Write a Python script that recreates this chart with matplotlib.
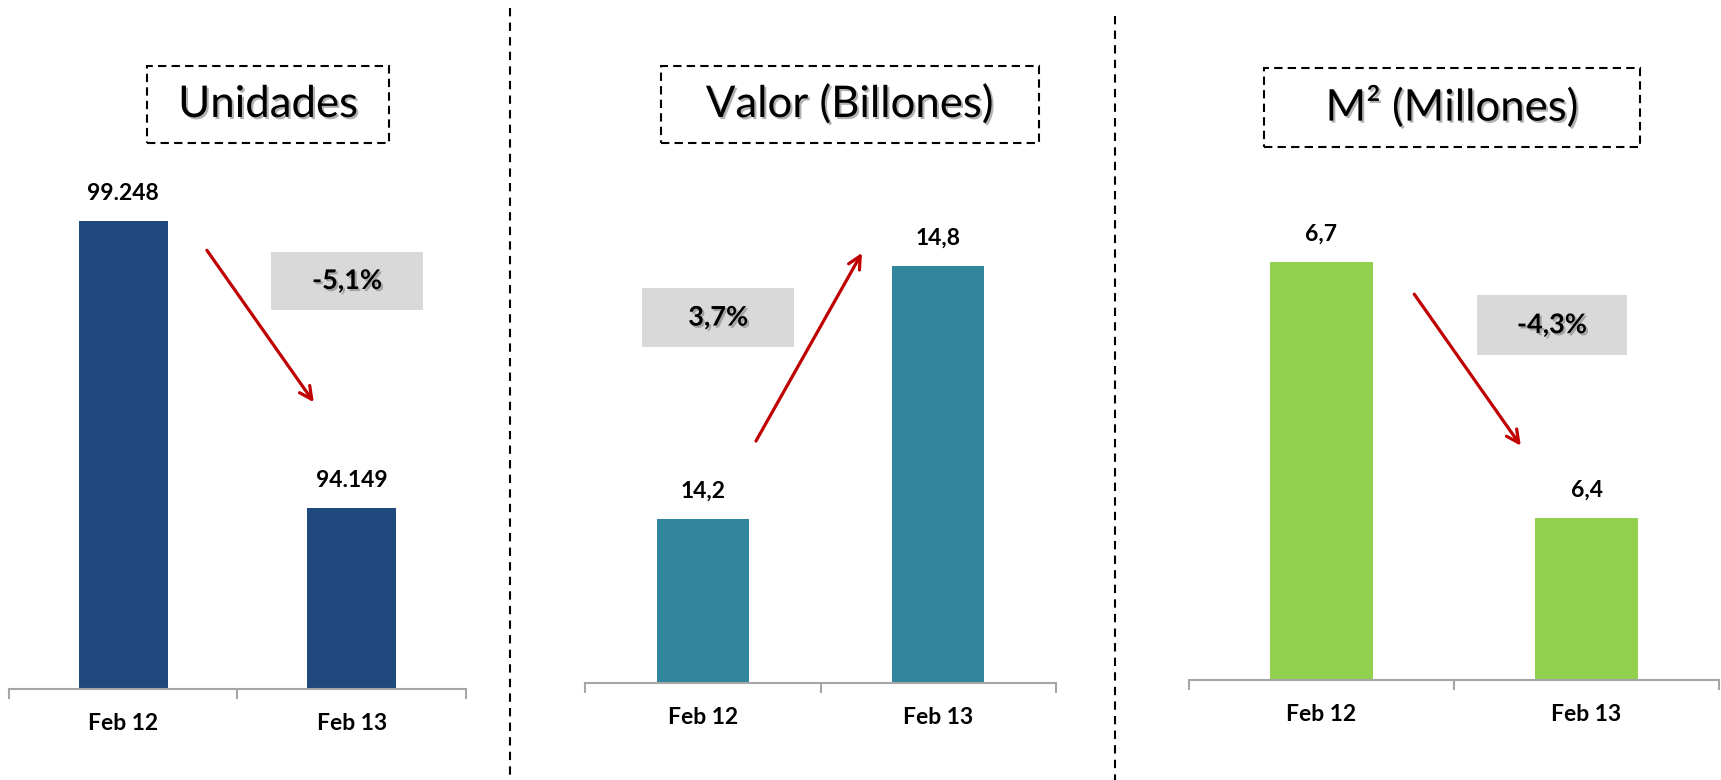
import matplotlib
matplotlib.use("Agg")
import matplotlib.pyplot as plt
import matplotlib.patheffects as pe
from matplotlib.patches import Rectangle
from matplotlib.lines import Line2D

plt.rcParams["font.family"] = ["Lato", "DejaVu Sans"]

categories = ["Feb 12", "Feb 13"]
titles = ["Unidades", "Valor (Billones)", "M\u00b2 (Millones)"]
unidades = [99248, 94149]
valor = [14.2, 14.8]
m2 = [6.7, 6.4]
value_labels = [["99.248", "94.149"], ["14,2", "14,8"], ["6,7", "6,4"]]
changes = ["-5,1%", "3,7%", "-4,3%"]
colors = ["#1f497d", "#31859c", "#92d050"]

W, H = 1721, 780
fig = plt.figure(figsize=(W / 100, H / 100), dpi=100)


def px_rect(x0, y0, x1, y1):
    # pixel box (top-left origin) -> figure fraction rect
    return [x0 / W, 1 - y1 / H, (x1 - x0) / W, (y1 - y0) / H]


# panel layout: axes box in pixels, y-axis limits, title box, change box, arrow
panels = [
    dict(rect=(9, 150, 466, 689), ylim=(90934, 100509), data=unidades,
         tbox=(0.302, 1.013, 0.832, 1.156), cbox=(0.573, 0.703, 0.906, 0.811),
         arrow=((0.433, 0.814), (0.667, 0.532))),
    dict(rect=(585, 150, 1056, 683), ylim=(13.81, 15.074), data=valor,
         tbox=(0.161, 1.013, 0.964, 1.158), cbox=(0.121, 0.630, 0.444, 0.741),
         arrow=((0.363, 0.454), (0.588, 0.807))),
    dict(rect=(1189, 150, 1719, 680), ylim=(6.21, 6.831), data=m2,
         tbox=(0.142, 1.006, 0.851, 1.155), cbox=(0.543, 0.613, 0.826, 0.726),
         arrow=((0.425, 0.728), (0.626, 0.442))),
]

shadow = [pe.SimplePatchShadow(offset=(1.5, -1.5), shadow_rgbFace="#7f7f7f", alpha=0.6),
          pe.Normal()]

for i, p in enumerate(panels):
    ax = fig.add_axes(px_rect(*p["rect"]))
    x = list(range(len(categories)))
    bars = ax.bar(x, p["data"], width=0.39, color=colors[i], zorder=2)
    ax.set_xlim(-0.5, 1.5)
    ax.set_ylim(*p["ylim"])

    for b, lab in zip(bars, value_labels[i]):
        ax.annotate(lab, (b.get_x() + b.get_width() / 2, b.get_height()),
                    xytext=(0, 20), textcoords="offset points",
                    ha="center", va="center", fontsize=16.5, fontweight="bold")

    for s in ["top", "right", "left"]:
        ax.spines[s].set_visible(False)
    ax.spines["bottom"].set_color("#a6a6a6")
    ax.spines["bottom"].set_linewidth(1.5)
    ax.set_yticks([])
    ax.set_xticks([-0.5, 0.5, 1.5])
    ax.set_xticklabels([])
    ax.set_xticks(x, minor=True)
    ax.set_xticklabels(categories, minor=True, fontsize=16.5, fontweight="bold")
    ax.tick_params(axis="x", which="major", length=7, width=1.5, color="#a6a6a6")
    ax.tick_params(axis="x", which="minor", length=0, pad=17)

    # dashed title box
    x0, y0, x1, y1 = p["tbox"]
    ax.add_patch(Rectangle((x0, y0), x1 - x0, y1 - y0, transform=ax.transAxes,
                           fill=False, ec="black", lw=1.5, ls=(0, (4, 2.5)),
                           clip_on=False))
    ax.text((x0 + x1) / 2, (y0 + y1) / 2, titles[i], transform=ax.transAxes,
            ha="center", va="center", fontsize=31.5, path_effects=shadow)

    # change box
    x0, y0, x1, y1 = p["cbox"]
    ax.add_patch(Rectangle((x0, y0), x1 - x0, y1 - y0, transform=ax.transAxes,
                           fc="#d9d9d9", ec="none", zorder=1))
    ax.text((x0 + x1) / 2, (y0 + y1) / 2, changes[i], transform=ax.transAxes,
            ha="center", va="center", fontsize=19.5, fontweight="bold",
            path_effects=shadow, zorder=3)

    # trend arrow
    (sx, sy), (ex, ey) = p["arrow"]
    ax.annotate("", xy=(ex, ey), xytext=(sx, sy), xycoords="axes fraction",
                textcoords="axes fraction",
                arrowprops=dict(arrowstyle="->,head_length=0.9,head_width=0.45",
                                color="#c00000", lw=2.3, shrinkA=0, shrinkB=0))

# dashed separators
for xs, ytop in [(510, 8), (1115, 16)]:
    fig.add_artist(Line2D([xs / W, xs / W], [1 - ytop / H, 0], color="black",
                          lw=1.5, ls=(0, (4, 3))))

fig.savefig("out.png", dpi=100, facecolor="white")
